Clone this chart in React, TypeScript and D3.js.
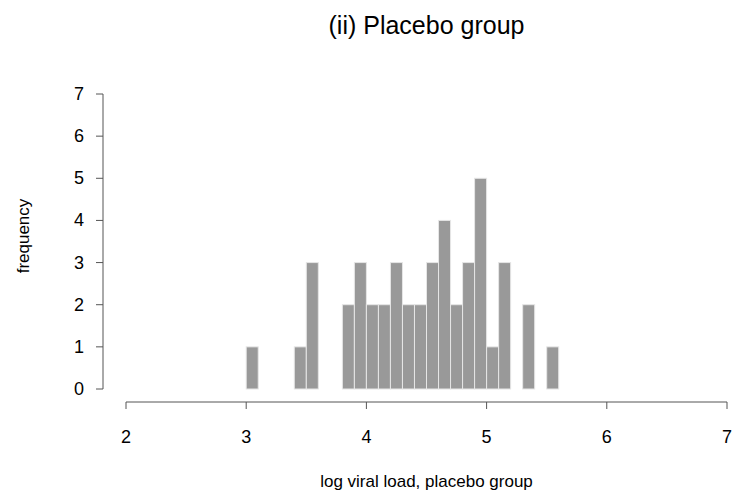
import React from 'react';
import * as d3 from 'd3';

// histogram bins (width 0.1) and counts
const binStarts = [3.0, 3.1, 3.2, 3.3, 3.4, 3.5, 3.6, 3.7, 3.8, 3.9, 4.0, 4.1, 4.2, 4.3, 4.4, 4.5, 4.6, 4.7, 4.8, 4.9, 5.0, 5.1, 5.2, 5.3, 5.4, 5.5];
const counts = [1, 0, 0, 0, 1, 3, 0, 0, 2, 3, 2, 2, 3, 2, 2, 3, 4, 2, 3, 5, 1, 3, 0, 2, 0, 1];
const binWidth = 0.1;
const xTicks = [2, 3, 4, 5, 6, 7];
const yTicks = [0, 1, 2, 3, 4, 5, 6, 7];

const W = 737;
const H = 497;
const FONT = '"Liberation Sans", Arial, Helvetica, sans-serif';

const App = () => {
  const x = d3.scaleLinear().domain([2, 7]).range([126, 727]);
  const y = d3.scaleLinear().domain([0, 7]).range([389, 94]);
  const axisY = 402;
  const axisX = 103;
  const mid = (x(2) + x(7)) / 2;

  return (
    <svg width={W} height={H} style={{ display: 'block', position: 'absolute', left: 0, top: 0, background: '#fff' }}>
      <text x={mid} y={34} textAnchor="middle" fontFamily={FONT} fontSize={25} fill="#000">(ii) Placebo group</text>

      {/* bars */}
      {binStarts.map((b, i) => (
        <rect
          key={i}
          x={x(b)}
          y={y(counts[i])}
          width={x(b + binWidth) - x(b)}
          height={y(0) - y(counts[i])}
          fill="#999999"
          stroke="#e6e6e6"
          strokeWidth={1}
        />
      ))}

      {/* x axis */}
      <line x1={x(2)} x2={x(7)} y1={axisY} y2={axisY} stroke="#555" strokeWidth={1} />
      {xTicks.map(t => (
        <g key={t}>
          <line x1={x(t)} x2={x(t)} y1={axisY} y2={axisY + 7} stroke="#555" />
          <text x={x(t)} y={443} textAnchor="middle" fontFamily={FONT} fontSize={18}>{t}</text>
        </g>
      ))}

      {/* y axis */}
      <line x1={axisX} x2={axisX} y1={y(0)} y2={y(7)} stroke="#555" strokeWidth={1} />
      {yTicks.map(t => (
        <g key={t}>
          <line x1={axisX - 7} x2={axisX} y1={y(t)} y2={y(t)} stroke="#555" />
          <text x={79} y={y(t) + 6} textAnchor="middle" fontFamily={FONT} fontSize={18}>{t}</text>
        </g>
      ))}

      <text x={mid} y={487} textAnchor="middle" fontFamily={FONT} fontSize={17}>log viral load, placebo group</text>
      <text transform="translate(29,236) rotate(-90)" textAnchor="middle" fontFamily={FONT} fontSize={17}>frequency</text>
    </svg>
  );
};

export default App;
